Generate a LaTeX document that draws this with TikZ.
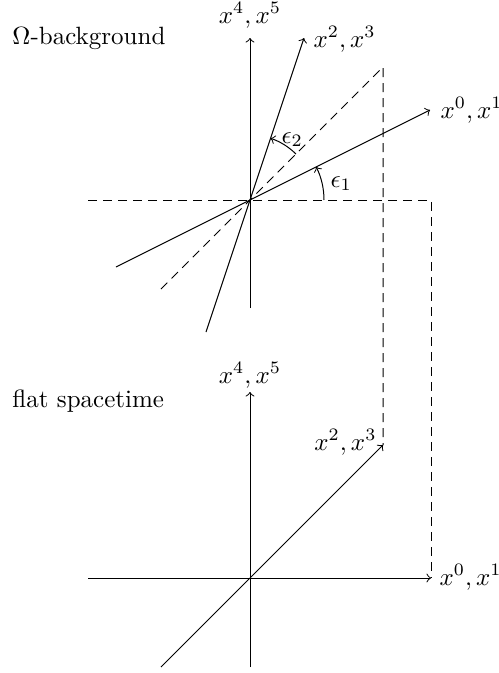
\documentclass[tikz,border=0pt]{standalone}
\begin{document}
\begin{tikzpicture}[x=0.4pt,y=-0.4pt,
  axis/.style={line width=0.4pt,->},
  guide/.style={line width=0.4pt,dash pattern=on 3.6pt off 2.4pt},
  lbl/.style={inner sep=0pt}]
\useasboundingbox (0,0) rectangle (499,673);
% ---------- top: Omega-background ----------
\coordinate (O1) at (250,200);
\coordinate (VtopT) at (250,38);
\coordinate (VtopB) at (250,308);
\coordinate (AtipT) at (430,110);
\coordinate (AendT) at (116,267);
\coordinate (BtipT) at (304,38);
\coordinate (BendT) at (206,332);
\coordinate (DlowT) at (161,289);
\coordinate (DupT) at (383,67);
\coordinate (HleftT) at (88,200);
\coordinate (HrightT) at (431,200);
% ---------- bottom: flat ----------
\coordinate (O2) at (250,578);
\coordinate (VtopF) at (250,392);
\coordinate (VbotF) at (250,667);
\coordinate (HleftF) at (88,578);
\coordinate (HtipF) at (431,578);
\coordinate (DlowF) at (161,667);
\coordinate (DtipF) at (383,445);

% dashed guides
\draw[guide] (HleftT) -- (HrightT) -- (HtipF);
\draw[guide] (DlowT) -- (DupT) -- (DtipF);

% top axes
\draw[axis] (VtopB) -- (VtopT);
\draw[axis] (AendT) -- (AtipT);
\draw[axis] (BendT) -- (BtipT);

% angle arcs
\draw[->] ([shift={(0:29.6pt)}]O1) arc[start angle=0,end angle=26.57,radius=29.6pt];
\draw[->] ([shift={(45:26pt)}]O1) arc[start angle=45,end angle=71.57,radius=26pt];

% bottom axes
\draw[axis] (VbotF) -- (VtopF);
\draw[axis] (HleftF) -- (HtipF);
\draw[axis] (DlowF) -- (DtipF);

% labels
\node[lbl,anchor=base west] (t1) at (12,44) {$\Omega$-background};
\node[lbl,anchor=base west] (t2) at (12,407) {flat spacetime};
\node[lbl,anchor=base] (l45T) at (250,23) {$x^4,x^5$};
\node[lbl,anchor=base west] (l23T) at (313,47) {$x^2,x^3$};
\node[lbl,anchor=base west] (l01T) at (440,118) {$x^0,x^1$};
\node[lbl,anchor=base west] (e1) at (330,187) {$\epsilon_1$};
\node[lbl,anchor=base west] (e2) at (281,143) {$\epsilon_2$};
\node[lbl,anchor=base] (l45F) at (250,383) {$x^4,x^5$};
\node[lbl,anchor=base east] (l23F) at (377,450) {$x^2,x^3$};
\node[lbl,anchor=base west] (l01F) at (439,585) {$x^0,x^1$};
\end{tikzpicture}
\end{document}
